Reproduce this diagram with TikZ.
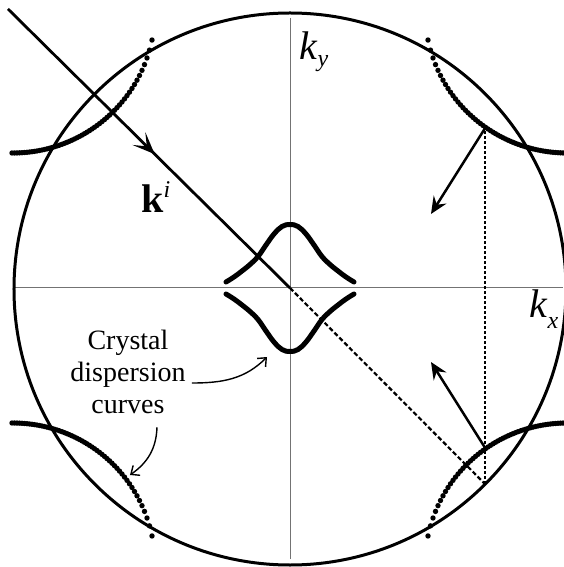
\documentclass[tikz,border=0pt]{standalone}
\usepackage{fontspec}
\setmainfont{Liberation Serif}
\usetikzlibrary{arrows.meta,decorations.markings}
\begin{document}
\begin{tikzpicture}[x=1pt, y=1pt, line width=2.8pt,
  axis/.style={black!55, line width=1pt},
  guide/.style={line width=2.2pt, dash pattern=on 3.5pt off 1.5pt},
  vg/.style={-{Stealth[length=17pt, width=15pt, inset=6pt]}, line width=2.5pt},
  callout/.style={-{Straight Barb[length=7pt, width=12pt]}, line width=1.4pt},
  biglabel/.style={font=\fontsize{40}{44}\selectfont, inner sep=0pt, anchor=base west}]
  \useasboundingbox (-290,-279) rectangle (274,288);
  % axes
  \draw[axis] (-275,0) -- (273,0);
  \draw[axis] (0,-271) -- (0,270);
  % incident medium
  \draw[line width=3pt] (0,-1) circle[radius=276];
  % crystal dispersion curves, sampled points
  \foreach \sx in {1,-1}
    \foreach \sy in {1,-1}
      \foreach \i in {0,...,56} {
        \pgfmathsetmacro\kx{138+2.5*\i}
        \pgfmathsetmacro\ky{277-142*sqrt(1-((277-\kx)/142)^2)}
        \fill (\sx*\kx,\sy*\ky) circle[radius=2.7];
      }
  \foreach \s in {1,-1}
    \draw[line width=5pt, line cap=round, yscale=\s] plot[smooth, tension=0.7] coordinates {
      (-64,6) (-56,11) (-48,17) (-40,23.5) (-32,31.5) (-24,43) (-16,54) (-8,61.5) (0,63.5)
      (8,61.5) (16,54) (24,43) (32,31.5) (40,23.5) (48,17) (56,11) (64,6)};
  % wave vectors
  \coordinate (src) at (-282,279);
  \coordinate (O) at (0,0);
  \coordinate (rim) at (195.2,-196.2);
  \coordinate (upper) at (195.2,160);
  \coordinate (lower) at (195.2,-160);
  \coordinate (upperTip) at (141,74);
  \coordinate (lowerTip) at (141,-74);
  \draw[postaction={decorate}, decoration={markings,
    mark=at position 0.52 with {\arrow{Stealth[length=22pt, width=18pt, inset=11pt]}}}] (src) -- (O);
  \draw[guide, dash pattern=on 4.5pt off 2.5pt] (O) -- (rim);
  \draw[guide] (rim) -- (upper);
  \draw[vg] (upper) -- (upperTip);
  \draw[vg] (lower) -- (lowerTip);
  % labels
  \node[biglabel] (ky) at (8,228) {\textit{k}\raisebox{-7pt}{\fontsize{24}{24}\selectfont\textit{y}}};
  \node[biglabel] (kx) at (238,-30) {\textit{k}\raisebox{-11pt}{\fontsize{24}{24}\selectfont\textit{x}}};
  \node[biglabel] (ki) at (-150,75) {\textbf{k}\raisebox{15pt}{\fontsize{24}{24}\selectfont\textit{i}}};
  \node[font=\fontsize{28}{32}\selectfont, align=center, inner sep=0pt] (crystal) at (-162,-84)
    {Crystal\\dispersion\\curves};
  \coordinate (toCenter) at (-23,-69);
  \coordinate (toCorner) at (-160,-187);
  \draw[callout] ([shift={(5,-11)}]crystal.east) to[out=0, in=-135] (toCenter);
  \draw[callout] ([shift={(29,-12)}]crystal.south) to[out=-92, in=35] (toCorner);
\end{tikzpicture}
\end{document}
